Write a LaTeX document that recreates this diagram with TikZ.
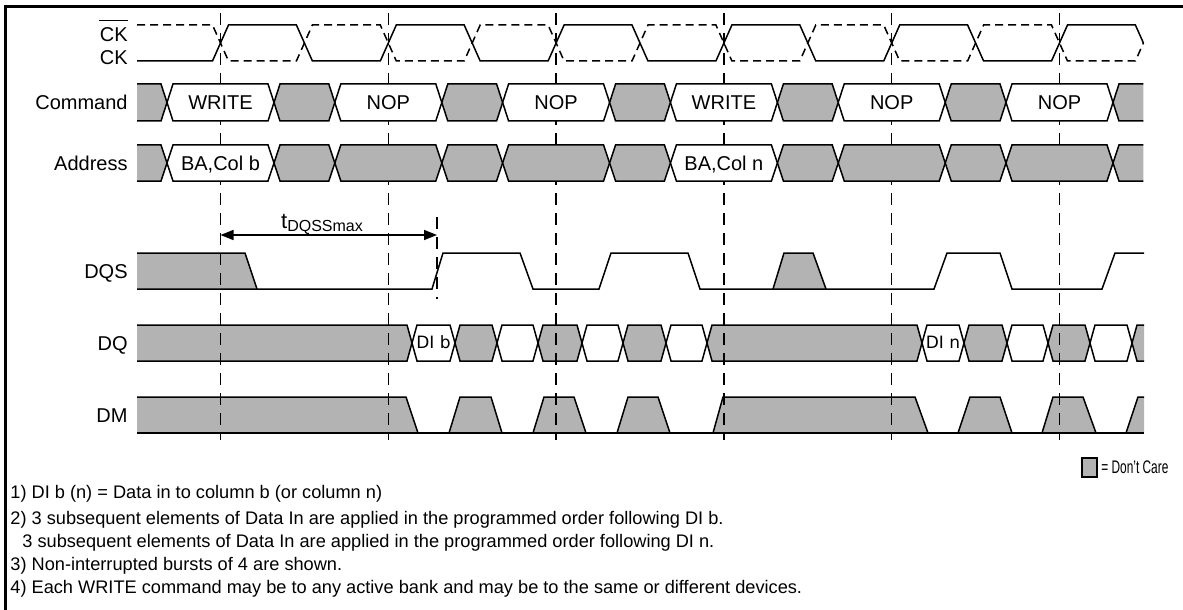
\documentclass[tikz,border=0pt]{standalone}
\usepackage{fontspec}
\setmainfont{Liberation Sans}
\newfontfamily\dvfont{DejaVu Sans}
\usetikzlibrary{arrows.meta}
\definecolor{dcgray}{RGB}{179,179,179}
\newcommand\hexseg[6]{%
  \filldraw[sig, fill=#5] (#1,{(#3+#4)/2}) -- ({#1+#6},#3) -- ({#2-#6},#3) -- (#2,{(#3+#4)/2}) -- ({#2-#6},#4) -- ({#1+#6},#4) -- cycle;}
\newcommand\hexstart[5]{%
  \fill[dcgray] (#1,#3) -- ({#2-#5},#3) -- (#2,{(#3+#4)/2}) -- ({#2-#5},#4) -- (#1,#4) -- cycle;
  \draw[sig] (#1,#3) -- ({#2-#5},#3) -- (#2,{(#3+#4)/2}) -- ({#2-#5},#4) -- (#1,#4);}
\newcommand\hexend[5]{%
  \fill[dcgray] (#2,#3) -- ({#1+#5},#3) -- (#1,{(#3+#4)/2}) -- ({#1+#5},#4) -- (#2,#4) -- cycle;
  \draw[sig] (#2,#3) -- ({#1+#5},#3) -- (#1,{(#3+#4)/2}) -- ({#1+#5},#4) -- (#2,#4);}
\begin{document}
\begin{tikzpicture}[x=0.5pt,y=-0.5pt,
  sig/.style={line width=0.75pt, line join=miter},
  gridline/.style={line width=0.75pt, dash pattern=on 6pt off 4pt},
  ckb/.style={line width=0.75pt, dash pattern=on 4pt off 2.5pt},
  lbl/.style={anchor=base east, inner sep=0pt, font=\fontsize{10}{12}\selectfont},
  bustxt/.style={anchor=base, inner sep=0pt, font=\fontsize{10}{12}\selectfont},
  ditxt/.style={anchor=base, inner sep=0pt, font=\dvfont\fontsize{8.5}{10}\selectfont},
  note/.style={anchor=base west, inner sep=0pt, font=\fontsize{9.1}{11}\selectfont},
  ]
\useasboundingbox (0,0) rectangle (1183,610);
% frame
\draw[line width=1.5pt] (5.7,610) -- (5.7,6.7) -- (1183,6.7);

% ---------- DQS ----------
\fill[dcgray] (137,253) -- (245,253) -- (257,289) -- (137,289) -- cycle;
\fill[dcgray] (773,289) -- (784,253) -- (813,253) -- (826,289) -- cycle;
\draw[sig] (137,253) -- (245,253) -- (257,289);
\draw[sig] (137,289) -- (432,289) -- (443,253) -- (520,253) -- (533,289) -- (599,289) -- (611,253) -- (688,253) -- (700,289) -- (934,289) -- (947,253) -- (1000,253) -- (1012,289) -- (1102,289) -- (1115,253) -- (1144,253);
\draw[sig] (773,289) -- (784,253) -- (813,253) -- (826,289);

% ---------- DQ ----------
\hexstart{137}{412}{325}{361}{5}
\foreach \xa/\xb/\f in {412/455/white,455/497/dcgray,497/538/white,538/582/dcgray,582/623/white,623/666/dcgray,666/707/white,707/922/dcgray,922/964/white,964/1007/dcgray,1007/1048/white,1048/1090/dcgray,1090/1132/white}{
  \hexseg{\xa}{\xb}{325}{361}{\f}{5}
}
\hexend{1132}{1144}{325}{361}{5}
\node[ditxt] (dib) at (433.5,348) {DI b};
\node[ditxt] (din) at (943,348) {DI n};

% ---------- DM ----------
\foreach \p in {{(137,397) -- (406,397) -- (418,433) -- (137,433)},
                {(449,433) -- (460,397) -- (491,397) -- (502,433)},
                {(533,433) -- (544,397) -- (574,397) -- (586,433)},
                {(617,433) -- (628,397) -- (658,397) -- (670,433)},
                {(713,433) -- (723,397) -- (915,397) -- (928,433)},
                {(958,433) -- (970,397) -- (1000,397) -- (1012,433)},
                {(1042,433) -- (1053,397) -- (1083,397) -- (1096,433)},
                {(1126,433) -- (1138,397) -- (1144,397) -- (1144,433)}}{
  \fill[dcgray] \p -- cycle;
}
\draw[sig] (137,397) -- (406,397) -- (418,433);
\draw[sig] (449,433) -- (460,397) -- (491,397) -- (502,433);
\draw[sig] (533,433) -- (544,397) -- (574,397) -- (586,433);
\draw[sig] (617,433) -- (628,397) -- (658,397) -- (670,433);
\draw[sig] (713,433) -- (723,397) -- (915,397) -- (928,433);
\draw[sig] (958,433) -- (970,397) -- (1000,397) -- (1012,433);
\draw[sig] (1042,433) -- (1053,397) -- (1083,397) -- (1096,433);
\draw[sig] (1126,433) -- (1138,397) -- (1144,397);
\draw[sig] (137,433) -- (1144,433);

% ---------- clocks ----------
\draw[sig] (137,61) foreach \k in {0,...,4}{
   -- ({220.5+\k*167.8-8},61) -- ({220.5+\k*167.8+8},25)
   -- ({304.4+\k*167.8-8},25) -- ({304.4+\k*167.8+8},61)}
   -- (1051.5,61) -- (1067.5,25) -- (1135.4,25) -- (1143.4,43);
\draw[ckb] (137,25) foreach \k in {0,...,4}{
   -- ({220.5+\k*167.8-8},25) -- ({220.5+\k*167.8+8},61)
   -- ({304.4+\k*167.8-8},61) -- ({304.4+\k*167.8+8},25)}
   -- (1051.5,25) -- (1067.5,61) -- (1135.4,61) -- (1143.4,43);

% ---------- clock grid ----------
\foreach \k in {0,...,5}{
  \draw[gridline] ({220.5+\k*167.8},13) -- ({220.5+\k*167.8},440);
}

% ---------- Command ----------
\hexstart{137}{167}{84}{121}{6}
\foreach \k/\txt in {0/WRITE,1/NOP,2/NOP,3/WRITE,4/NOP,5/NOP}{
  \pgfmathsetmacro\cc{220.5+\k*167.8}
  \pgfmathsetmacro\xa{\cc-53.5}
  \pgfmathsetmacro\xb{\cc+53.5}
  \hexseg{\xa}{\xb}{84}{121}{white}{6}
  \node[bustxt] (cmd\k) at (\cc,110) {\txt};
}
\foreach \k in {0,...,4}{
  \pgfmathsetmacro\xa{220.5+\k*167.8+53.5}
  \pgfmathsetmacro\xb{220.5+(\k+1)*167.8-53.5}
  \hexseg{\xa}{\xb}{84}{121}{dcgray}{6}
}
\hexend{1113}{1143.4}{84}{121}{6}

% ---------- Address ----------
\hexstart{137}{167}{145}{181}{6}
\foreach \k/\f in {0/white,1/dcgray,2/dcgray,3/white,4/dcgray,5/dcgray}{
  \pgfmathsetmacro\cc{220.5+\k*167.8}
  \pgfmathsetmacro\xa{\cc-53.5}
  \pgfmathsetmacro\xb{\cc+53.5}
  \hexseg{\xa}{\xb}{145}{181}{\f}{6}
}
\foreach \k in {0,...,4}{
  \pgfmathsetmacro\xa{220.5+\k*167.8+53.5}
  \pgfmathsetmacro\xb{220.5+(\k+1)*167.8-53.5}
  \hexseg{\xa}{\xb}{145}{181}{dcgray}{6}
}
\hexend{1113}{1143.4}{145}{181}{6}
\node[bustxt] (adb) at (220.5,170) {BA,Col b};
\node[bustxt] (adn) at (723.9,170) {BA,Col n};

% ---------- tDQSS ----------
\draw[gridline] (437,217) -- (437,299);
\coordinate (ta) at (220.5,235);
\coordinate (tb) at (437,235);
\draw[line width=0.75pt, {Triangle[length=6.5pt,width=5pt]}-{Triangle[length=6.5pt,width=5pt]}] (ta) -- (tb);
\node[anchor=base, inner sep=0pt, font=\fontsize{11}{13}\selectfont] (tdqss) at (322,228)
  {t\raisebox{-1.5pt}{\fontsize{8}{9}\selectfont DQSSmax}};

% ---------- labels ----------
\node[lbl] (lckb) at (128,42) {CK};
\draw[line width=0.6pt] ([yshift=3.5pt]lckb.north west) -- ([yshift=3.5pt]lckb.north east);
\node[lbl] (lck) at (128,65) {CK};
\node[lbl] (lcmd) at (128,110) {Command};
\node[lbl] (ladr) at (128,170) {Address};
\node[lbl] (ldqs) at (128,278) {DQS};
\node[lbl] (ldq) at (128,350) {DQ};
\node[lbl] (ldm) at (128,422) {DM};

% ---------- legend ----------
\filldraw[fill=dcgray, line width=0.6pt] (1082,458) rectangle (1097,477);
\node[note, anchor=west] (leg) at (1101,467.5) {\resizebox{33.5pt}{\height}{= Don't Care}};

% ---------- notes ----------
\node[note] (n1) at (10,498) {1) DI b (n) = Data in to column b (or column n)};
\node[note] (n2) at (10,524) {2) 3 subsequent elements of Data In are applied in the programmed order following DI b.};
\node[note] (n3) at (22,547) {3 subsequent elements of Data In are applied in the programmed order following DI n.};
\node[note] (n4) at (10,570) {3) Non-interrupted bursts of 4 are shown.};
\node[note] (n5) at (10,593) {4) Each WRITE command may be to any active bank and may be to the same or different devices.};
\end{tikzpicture}
\end{document}
